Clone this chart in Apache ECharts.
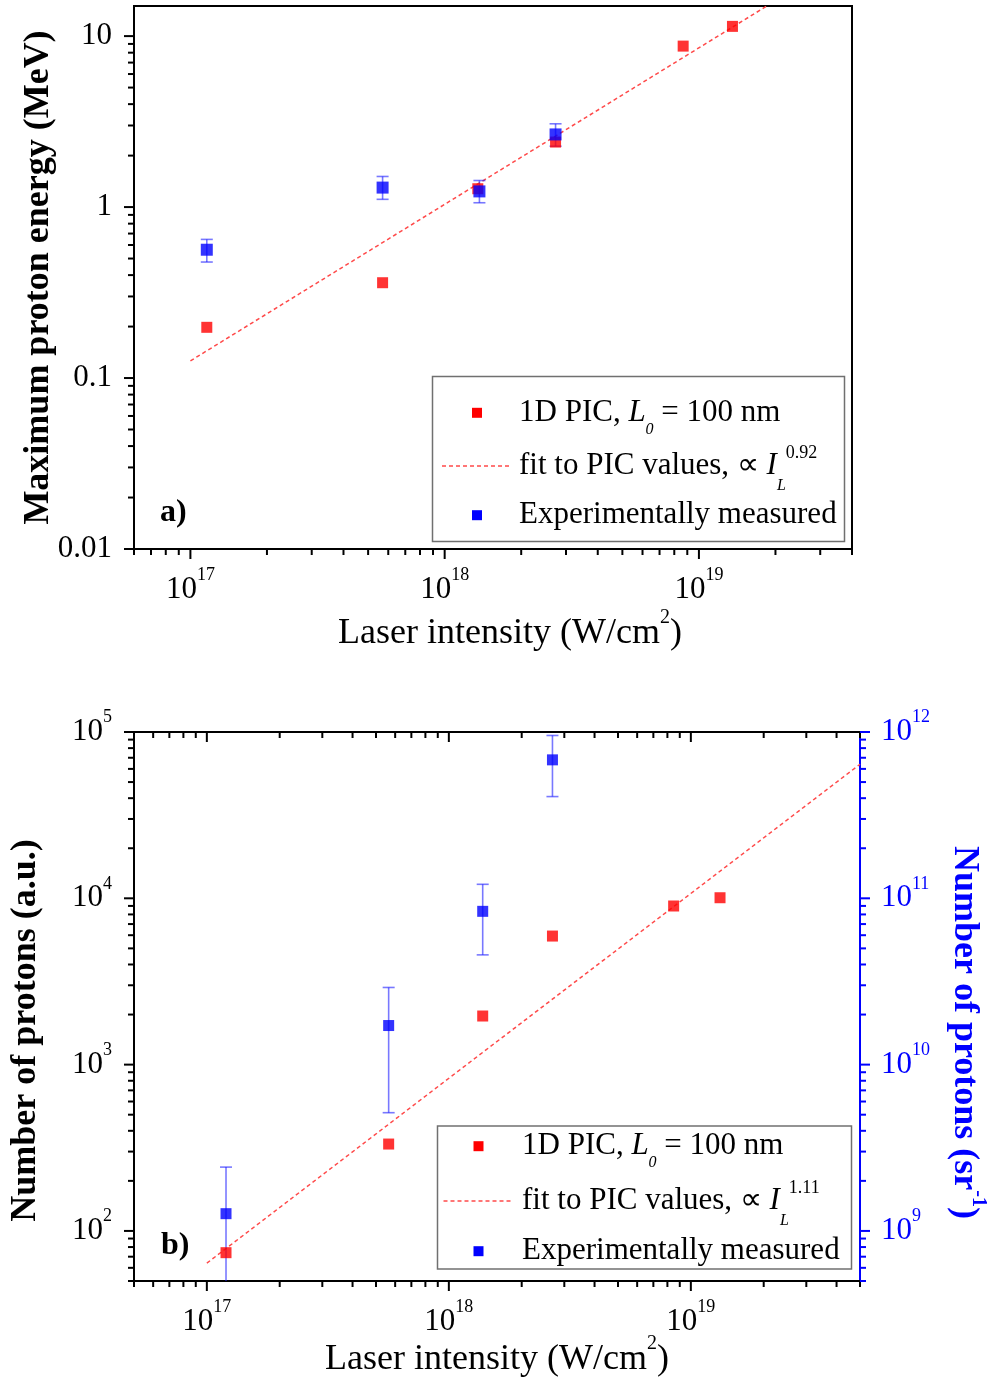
<!DOCTYPE html>
<html><head><meta charset="utf-8">
<script src="https://cdn.jsdelivr.net/npm/echarts@6/dist/echarts.min.js"></script>
<style>html,body{margin:0;padding:0;background:#fff}#c{width:998px;height:1383px}</style>
</head><body><div id="c"></div>
<script>
// ---------------- data (panel a) ----------------
const picA_x = [1.16e17, 5.7e17, 1.35e18, 2.73e18, 8.67e18, 1.355e19];
const picA_y = [0.198, 0.361, 1.28, 2.40, 8.74, 11.4];
const expA_x = [1.16e17, 5.7e17, 1.37e18, 2.73e18];
const expA_y = [0.563, 1.30, 1.235, 2.66];
const expA_lo = [0.477, 1.11, 1.06, 2.27];
const expA_hi = [0.647, 1.51, 1.43, 3.07];
const fitA_x = [1e17, 1.85e19];
const fitA_y = [0.126, 15];
// ---------------- data (panel b) ----------------
const picB_x = [1.2e17, 5.64e17, 1.38e18, 2.68e18, 8.49e18, 1.32e19];
const picB_y = [74, 333, 1960, 5930, 8990, 10080];
const expB_x = [1.2e17, 5.64e17, 1.38e18, 2.68e18];
const expB_y = [127, 1718, 8350, 68000];
const expB_lo = [20, 514, 4570, 40900];
const expB_hi = [242, 2910, 12140, 95300];
const fitB_x = [1e17, 5e19];
const fitB_y = [64, 64000];
// ---------------- axis ranges / labels ----------------
const xA_range = [6e16, 4e19];
const yA_range = [0.01, 15];
const xB_range = [5e16, 5e19];
const yB_range = [50, 1e5];
const yB2_range = [5e8, 1e12];
const legendA = ['1D PIC, {i|L}{sub0|0}{t| = 100 nm}', 'fit to PIC values, \u221D {i|I}{subL|L}{sup|0.92}', 'Experimentally measured'];
const legendB = ['1D PIC, {i|L}{sub0|0}{t| = 100 nm}', 'fit to PIC values, \u221D {i|I}{subL|L}{sup|1.11}', 'Experimentally measured'];

const FONT = 'Liberation Serif';
const RED = '#ff0000', BLUE = '#0000ff', FITC = '#ff4a4a', ERRC = 'rgba(30,30,255,0.6)';

function zip(a, b) { return a.map((v, i) => [v, b[i]]); }
function zip3(a, b, c) { return a.map((v, i) => [v, b[i], c[i]]); }

function decadeTicks(r) {
  const out = [];
  for (let n = Math.floor(Math.log10(r[0])); n <= Math.ceil(Math.log10(r[1])); n++) {
    for (let k = 1; k <= 9; k++) {
      const v = k * Math.pow(10, n);
      if (v >= r[0] * 0.9999 && v <= r[1] * 1.0001) out.push([v, k === 1 ? 1 : 0]);
    }
  }
  return out;
}
function isDecade(v) { const e = Math.log10(v); return Math.abs(e - Math.round(e)) < 1e-6; }
function expLabel(v) { return isDecade(v) ? '{b|10}{s|' + Math.round(Math.log10(v)) + '}' : ''; }
function plainLabel(v) { return isDecade(v) ? String(Number(Math.pow(10, Math.round(Math.log10(v))).toPrecision(6))) : ''; }
function expRich(color) {
  return {
    b: {fontFamily: FONT, fontSize: 31, lineHeight: 47, color: color},
    s: {fontFamily: FONT, fontSize: 18, lineHeight: 18, verticalAlign: 'top', color: color}
  };
}
function logAxis(extra) {
  return Object.assign({
    type: 'log', logBase: 10,
    splitLine: {show: false}, axisTick: {show: false}, minorTick: {show: false},
    axisLine: {show: true, onZero: false, lineStyle: {color: '#000', width: 2}},
    nameMoveOverlap: false
  }, extra);
}

// tick series: drawn through the axes' own scales (api.coord)
function tickSeries(xi, yi, r, fixed, isX, dir, color) {
  const data = decadeTicks(r).map(t => isX ? [t[0], fixed, t[1]] : [fixed, t[0], t[1]]);
  return {
    type: 'custom', xAxisIndex: xi, yAxisIndex: yi, silent: true, clip: false, z: 5,
    data: data,
    renderItem: function (params, api) {
      const p = api.coord([api.value(0), api.value(1)]);
      const len = api.value(2) ? 10 : 6;
      let x2 = p[0], y2 = p[1];
      if (dir === 'down') y2 += len; else if (dir === 'left') x2 -= len; else if (dir === 'right') x2 += len; else y2 -= len;
      return {type: 'line', shape: {x1: p[0], y1: p[1], x2: x2, y2: y2}, style: {stroke: color, lineWidth: 2}};
    }
  };
}
function errSeries(xi, yi, xs, lo, hi) {
  return {
    type: 'custom', xAxisIndex: xi, yAxisIndex: yi, silent: true, clip: true,
    data: zip3(xs, lo, hi),
    renderItem: function (params, api) {
      const a = api.coord([api.value(0), api.value(1)]);
      const b = api.coord([api.value(0), api.value(2)]);
      const st = {stroke: ERRC, lineWidth: 1.6};
      return {type: 'group', children: [
        {type: 'line', shape: {x1: a[0], y1: a[1], x2: b[0], y2: b[1]}, style: st},
        {type: 'line', shape: {x1: a[0] - 6, y1: a[1], x2: a[0] + 6, y2: a[1]}, style: st},
        {type: 'line', shape: {x1: b[0] - 6, y1: b[1], x2: b[0] + 6, y2: b[1]}, style: st}
      ]};
    }
  };
}

const legRich = {
  t: {fontFamily: FONT, fontSize: 31, lineHeight: 55, fill: '#000'},
  i: {fontFamily: FONT, fontSize: 31, lineHeight: 55, fontStyle: 'italic', fill: '#000'},
  sub0: {fontFamily: FONT, fontSize: 16, lineHeight: 16, fontStyle: 'italic', verticalAlign: 'top', padding: [36, 0, 0, 0], fill: '#000'},
  subL: {fontFamily: FONT, fontSize: 16, lineHeight: 16, fontStyle: 'italic', verticalAlign: 'top', padding: [39, 0, 0, 0], fill: '#000'},
  sup: {fontFamily: FONT, fontSize: 18, lineHeight: 18, verticalAlign: 'top', padding: [6, 0, 0, 0], fill: '#000'}
};
function wrapPlain(t) {
  const idx = t.indexOf('{');
  if (idx === -1) return '{t|' + t + '}';
  if (idx === 0) return t;
  return '{t|' + t.slice(0, idx) + '}' + t.slice(idx);
}
function buildLegend(box, iconX, textX, rows, texts) {
  const els = [];
  els.push({type: 'rect', z: 100, shape: {x: box[0], y: box[1], width: box[2], height: box[3]}, style: {fill: '#fff', stroke: '#707070', lineWidth: 1.5}});
  els.push({type: 'rect', z: 101, shape: {x: iconX - 5, y: rows[0] - 5, width: 10, height: 10}, style: {fill: RED}});
  els.push({type: 'line', z: 101, shape: {x1: iconX - 35, y1: rows[1], x2: iconX + 34, y2: rows[1]}, style: {stroke: FITC, lineWidth: 1.5, lineDash: [4, 3]}});
  els.push({type: 'rect', z: 101, shape: {x: iconX - 5, y: rows[2] - 5, width: 10, height: 10}, style: {fill: BLUE}});
  texts.forEach((t, k) => {
    els.push({type: 'text', z: 101, x: textX, y: rows[k], style: {text: wrapPlain(t), rich: legRich, align: 'left', verticalAlign: 'middle'}});
  });
  return els;
}

const xNameStyle = {fontFamily: FONT, fontSize: 36, color: '#000',
  rich: {t: {fontFamily: FONT, fontSize: 36, lineHeight: 52}, s: {fontFamily: FONT, fontSize: 20, lineHeight: 20, verticalAlign: 'top'}}};

const chart = echarts.init(document.getElementById('c'), null, {renderer: 'canvas', width: 998, height: 1383});
const option = {
  animation: false,
  backgroundColor: '#fff',
  grid: [
    {left: 134, top: 6, width: 718, height: 543, show: true, borderColor: '#000', borderWidth: 2, backgroundColor: 'transparent', containLabel: false, outerBoundsMode: 'none'},
    {left: 134, top: 732, width: 726, height: 549, show: false, containLabel: false, outerBoundsMode: 'none'}
  ],
  xAxis: [
    logAxis({gridIndex: 0, position: 'bottom', min: xA_range[0], max: xA_range[1],
      axisLabel: {formatter: expLabel, rich: expRich('#000'), margin: 17},
      name: '{t|Laser intensity (W/cm}{s|2}{t|)}', nameLocation: 'middle', nameGap: 59,
      nameTextStyle: Object.assign({}, xNameStyle, {padding: [0, 0, 0, 34]})}),
    logAxis({gridIndex: 1, position: 'bottom', min: xB_range[0], max: xB_range[1],
      axisLabel: {formatter: expLabel, rich: expRich('#000'), margin: 17},
      name: '{t|Laser intensity (W/cm}{s|2}{t|)}', nameLocation: 'middle', nameGap: 53,
      nameTextStyle: xNameStyle}),
    logAxis({gridIndex: 1, position: 'top', min: xB_range[0], max: xB_range[1], axisLabel: {show: false}})
  ],
  yAxis: [
    logAxis({gridIndex: 0, position: 'left', min: yA_range[0], max: yA_range[1],
      axisLabel: {formatter: plainLabel, fontFamily: FONT, fontSize: 31, color: '#000', margin: 22},
      name: 'Maximum proton energy (MeV)', nameLocation: 'middle', nameGap: 77, nameRotate: 90,
      nameTextStyle: {fontFamily: FONT, fontSize: 36, lineHeight: 36, fontWeight: 'bold', color: '#000'}}),
    logAxis({gridIndex: 1, position: 'left', min: yB_range[0], max: yB_range[1],
      axisLabel: {formatter: expLabel, rich: expRich('#000'), margin: 22},
      name: 'Number of protons (a.u.)', nameLocation: 'middle', nameGap: 90, nameRotate: 90,
      nameTextStyle: {fontFamily: FONT, fontSize: 36, lineHeight: 36, fontWeight: 'bold', color: '#000', padding: [0, 48, 0, 0]}}),
    logAxis({gridIndex: 1, position: 'right', min: yB2_range[0], max: yB2_range[1],
      axisLine: {show: true, onZero: false, lineStyle: {color: BLUE, width: 2}},
      axisLabel: {formatter: expLabel, rich: expRich(BLUE), margin: 21},
      name: '{t|Number of protons (sr}{s|-1}{t|)}', nameLocation: 'middle', nameGap: 80, nameRotate: -90,
      nameTextStyle: {fontFamily: FONT, fontSize: 36, fontWeight: 'bold', color: BLUE, padding: [0, 0, 0, 52],
        rich: {t: {fontFamily: FONT, fontSize: 36, lineHeight: 48, fontWeight: 'bold', color: BLUE},
               s: {fontFamily: FONT, fontSize: 20, lineHeight: 20, fontWeight: 'bold', color: BLUE, verticalAlign: 'top'}}}})
  ],
  series: [
    // panel a
    {type: 'line', name: 'fitA', xAxisIndex: 0, yAxisIndex: 0, data: zip(fitA_x, fitA_y), symbol: 'none', silent: true,
      lineStyle: {color: FITC, width: 1.5, type: [4, 3]}, z: 2},
    {type: 'scatter', name: 'picA', xAxisIndex: 0, yAxisIndex: 0, data: zip(picA_x, picA_y), symbol: 'rect', symbolSize: 11,
      itemStyle: {color: RED}, z: 3},
    Object.assign(errSeries(0, 0, expA_x, expA_lo, expA_hi), {z: 3}),
    {type: 'scatter', name: 'expA', xAxisIndex: 0, yAxisIndex: 0, data: zip(expA_x, expA_y), symbol: 'rect', symbolSize: 12,
      itemStyle: {color: BLUE}, z: 4},
    tickSeries(0, 0, xA_range, yA_range[0], true, 'down', '#000'),
    tickSeries(0, 0, yA_range, xA_range[0], false, 'left', '#000'),
    // panel b
    {type: 'line', name: 'fitB', xAxisIndex: 1, yAxisIndex: 1, data: zip(fitB_x, fitB_y), symbol: 'none', silent: true,
      lineStyle: {color: FITC, width: 1.5, type: [4, 3]}, z: 2},
    {type: 'scatter', name: 'picB', xAxisIndex: 1, yAxisIndex: 1, data: zip(picB_x, picB_y), symbol: 'rect', symbolSize: 11,
      itemStyle: {color: RED}, z: 3},
    Object.assign(errSeries(1, 1, expB_x, expB_lo, expB_hi), {z: 3}),
    {type: 'scatter', name: 'expB', xAxisIndex: 1, yAxisIndex: 1, data: zip(expB_x, expB_y), symbol: 'rect', symbolSize: 11,
      itemStyle: {color: BLUE}, z: 4},
    tickSeries(1, 1, xB_range, yB_range[0], true, 'down', '#000'),
    tickSeries(2, 1, xB_range, yB_range[1], true, 'down', '#000'),
    tickSeries(1, 1, yB_range, xB_range[0], false, 'left', '#000'),
    tickSeries(1, 2, yB2_range, xB_range[1], false, 'right', BLUE)
  ],
  graphic: []
};
option.graphic = [].concat(
  buildLegend([432.5, 376.5, 412, 165], 477, 519, [412.8, 466, 515.2], legendA),
  buildLegend([437.5, 1126, 414, 143], 478.5, 522, [1146.2, 1201, 1251.2], legendB),
  [
    {type: 'text', z: 101, x: 160, y: 513, style: {text: 'a)', fontFamily: FONT, fontSize: 32, fontWeight: 'bold', fill: '#000', align: 'left', verticalAlign: 'middle'}},
    {type: 'text', z: 101, x: 161, y: 1246, style: {text: 'b)', fontFamily: FONT, fontSize: 32, fontWeight: 'bold', fill: '#000', align: 'left', verticalAlign: 'middle'}}
  ]
);
chart.setOption(option);
</script>
</body></html>
